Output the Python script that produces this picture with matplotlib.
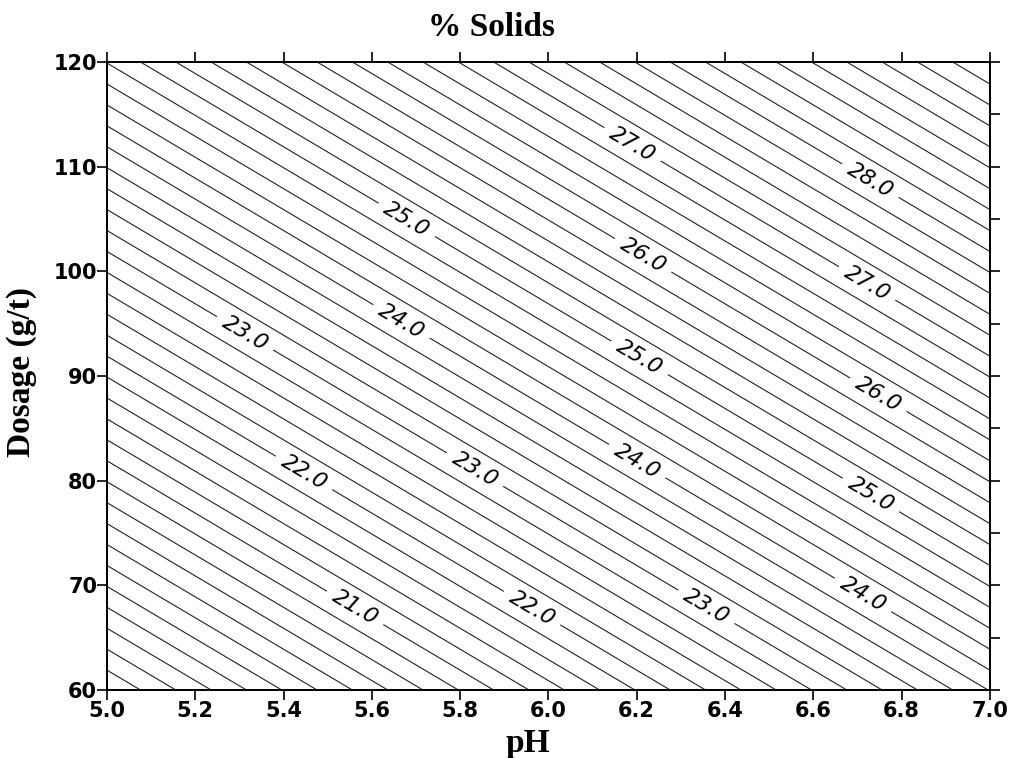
import numpy as np
import matplotlib
matplotlib.use("Agg")
import matplotlib.pyplot as plt

# % solids at the corners / middle of the region
ph = [5.0, 6.0, 7.0]
dosage = [60, 90, 120]
solids = [
    [18.81, 21.31, 23.81],   # dosage 60
    [21.81, 24.31, 26.81],   # dosage 90
    [24.81, 27.31, 29.81],   # dosage 120
]

# where the labelled lines carry their numbers
label_spots = [
    (6.20, 112.8), (6.73, 108.7),
    (5.69, 105.7), (6.22, 101.9), (6.72, 98.7),
    (5.32, 94.6), (5.67, 95.4), (6.21, 92.0), (6.75, 88.4),
    (5.45, 81.0), (5.84, 81.5), (6.21, 82.5), (6.73, 78.6),
    (5.57, 68.4), (5.96, 67.6), (6.36, 68.1), (6.72, 69.6),
]

X, Y = np.meshgrid(ph, dosage)
Z = np.array(solids)

fig = plt.figure(figsize=(10.09, 7.58), dpi=100)
ax = fig.add_axes([0.106, 0.0897, 0.875, 0.8285])

levels = np.round(np.arange(18.0, 30.01, 0.2), 1)
minor_lv = [l for l in levels if abs(l - round(l)) > 1e-6]
major_lv = [l for l in levels if abs(l - round(l)) < 1e-6]

line_kw = dict(colors="#222222", linewidths=0.8)
ax.contour(X, Y, Z, levels=minor_lv, **line_kw)
cs = ax.contour(X, Y, Z, levels=major_lv, **line_kw)

labels = ax.clabel(cs, manual=label_spots, fmt="%.1f",
                   inline=True, inline_spacing=8, fontsize=16)
for t in labels:
    t.set_fontfamily("DejaVu Sans")
    t.set_fontstyle("oblique")
    t.set_color("black")

ax.set_xlim(5.0, 7.0)
ax.set_ylim(60, 120)
xt = np.arange(5.0, 7.01, 0.2)
ax.set_xticks(xt)
ax.set_xticklabels([f"{v:.1f}" for v in xt])
ax.set_yticks(np.arange(60, 121, 10))

for lbl in ax.get_xticklabels() + ax.get_yticklabels():
    lbl.set_fontfamily("DejaVu Sans")
    lbl.set_fontweight("bold")
    lbl.set_fontsize(15)

ax.tick_params(axis="both", direction="out", length=7, width=1.2, pad=1)
ax.tick_params(axis="y", pad=0)
ax.tick_params(axis="x", top=True)

# right side: unlabelled ticks every 5
ax2 = ax.twinx()
ax2.set_ylim(60, 120)
ax2.set_yticks(np.arange(60, 121, 5))
ax2.set_yticklabels([])
ax2.tick_params(axis="y", direction="out", length=7, width=1.2)

for a in (ax, ax2):
    for s in a.spines.values():
        s.set_linewidth(1.3)

serif = dict(family="Liberation Serif", weight="bold", size=24)
fig.text(0.4876, 0.964, "% Solids", ha="center", va="center", **serif)
ax.set_xlabel("pH", **serif)
ax.xaxis.label.set_va("center")
ax.xaxis.set_label_coords(0.477, -0.0844)
ax.set_ylabel("Dosage (g/t)", **serif)
ax.yaxis.label.set_va("center")
ax.yaxis.set_label_coords(-0.0963, 0.506)

fig.savefig("out.png", dpi=100)
